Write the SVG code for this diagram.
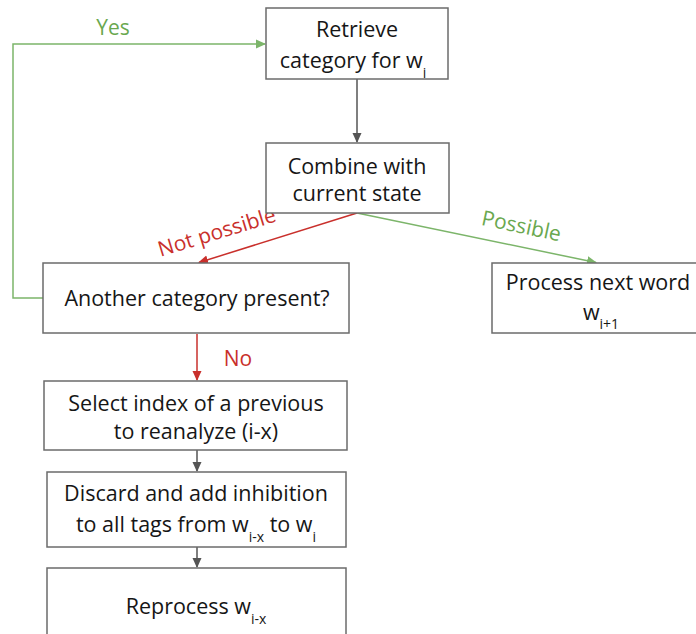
<svg xmlns="http://www.w3.org/2000/svg" width="696" height="634" viewBox="0 0 696 634">
<style>
.box{fill:#fff;stroke:#6b6b6b;stroke-width:1.5}
.t{font-family:"Open Sans","Liberation Sans",sans-serif;font-size:21.5px;fill:#161616;text-anchor:middle}
.sub{font-size:14px}
.g{stroke:#7cb56a;stroke-width:1.5;fill:none}
.r{stroke:#c9302c;stroke-width:1.5;fill:none}
.k{stroke:#555;stroke-width:1.5;fill:none}
.lg{font-family:"Open Sans","Liberation Sans",sans-serif;font-size:21px;fill:#6aa84f;text-anchor:middle}
.lr{font-family:"Open Sans","Liberation Sans",sans-serif;font-size:21px;fill:#c9302c;text-anchor:middle}
</style>
<defs>
<marker id="ak" markerWidth="10" markerHeight="10" refX="9" refY="5" orient="auto" markerUnits="userSpaceOnUse"><path d="M0,0.5 L10,5 L0,9.5 z" fill="#555"/></marker>
<marker id="ag" markerWidth="10" markerHeight="10" refX="9" refY="5" orient="auto" markerUnits="userSpaceOnUse"><path d="M0,0.5 L10,5 L0,9.5 z" fill="#7cb56a"/></marker>
<marker id="ar" markerWidth="10" markerHeight="10" refX="9" refY="5" orient="auto" markerUnits="userSpaceOnUse"><path d="M0,0.5 L10,5 L0,9.5 z" fill="#c9302c"/></marker>
</defs>
<rect width="696" height="634" fill="#fff"/>
<g id="connectors">
<path class="k" d="M357,79 V142" marker-end="url(#ak)"/>
<path class="r" d="M357,213 L199,262.5" marker-end="url(#ar)"/>
<path class="g" d="M357,213 L596,262.5" marker-end="url(#ag)"/>
<path class="g" d="M43,298 H13 V44 H265" marker-end="url(#ag)"/>
<path class="r" d="M197,334 V380" marker-end="url(#ar)"/>
<path class="k" d="M197,450 V471" marker-end="url(#ak)"/>
<path class="k" d="M197,547 V567" marker-end="url(#ak)"/>
<text class="lg" x="113" y="35">Yes</text>
<text class="lr" transform="translate(219,239) rotate(-17)">Not possible</text>
<text class="lg" transform="translate(520,233) rotate(12)">Possible</text>
<text class="lr" x="238" y="366">No</text>
</g>
<g id="retrieve">
<rect class="box" x="266" y="8" width="182" height="71"/>
<text class="t" x="357" y="37">Retrieve</text>
<text class="t" x="353" y="68">category for w<tspan class="sub" dy="10">i</tspan></text>
</g>
<g id="combine">
<rect class="box" x="266" y="143" width="183" height="70"/>
<text class="t" x="357" y="174">Combine with</text>
<text class="t" x="357" y="201">current state</text>
</g>
<g id="another">
<rect class="box" x="43" y="263" width="306" height="70"/>
<text class="t" x="197" y="306">Another category present?</text>
</g>
<g id="process">
<rect class="box" x="492" y="263" width="210" height="70"/>
<text class="t" x="598" y="290">Process next word</text>
<text class="t" x="601" y="320">w<tspan class="sub" dy="9">i+1</tspan></text>
</g>
<g id="select">
<rect class="box" x="44" y="381" width="303" height="69"/>
<text class="t" x="196" y="411">Select index of a previous</text>
<text class="t" x="196" y="439">to reanalyze (i-x)</text>
</g>
<g id="discard">
<rect class="box" x="47" y="472" width="299" height="75"/>
<text class="t" x="196" y="501">Discard and add inhibition</text>
<text class="t" x="196" y="532">to all tags from w<tspan class="sub" dy="10">i-x</tspan><tspan dy="-10"> to w</tspan><tspan class="sub" dy="10">i</tspan></text>
</g>
<g id="reprocess">
<rect class="box" x="47" y="568" width="299" height="80"/>
<text class="t" x="196" y="614">Reprocess w<tspan class="sub" dy="10">i-x</tspan></text>
</g>
</svg>
